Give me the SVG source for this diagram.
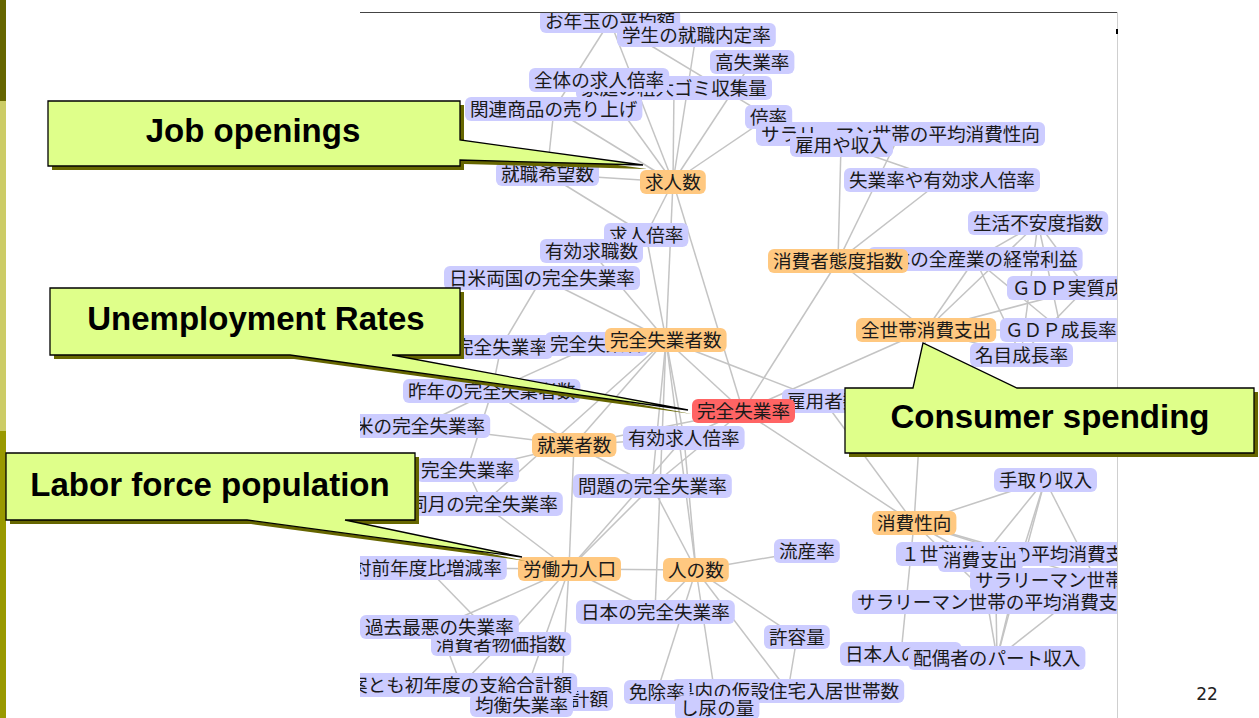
<svg xmlns="http://www.w3.org/2000/svg" width="1259" height="718" viewBox="0 0 1259 718">
  <defs>
    <clipPath id="netClip"><rect x="360" y="12" width="757" height="706"/></clipPath>
  </defs>
  <style>
    .edges line{stroke:#c4c4c4;stroke-width:1.5}
    .n rect{rx:6px;ry:6px;height:24px}
    .b rect{fill:#ccccff}
    .o rect{fill:#ffc880}
    .r rect{fill:#ff6464}
    .n text{font-family:"Noto Sans CJK JP","Noto Sans CJK SC",sans-serif;font-size:18.6px;fill:#1a1a1a;text-anchor:middle}
    .co{fill:#dfff8a;stroke:#000;stroke-width:1.3;stroke-linejoin:miter}
    .sh{fill:#666600}
    .ct{font-family:"Liberation Sans",Arial,sans-serif;font-weight:bold;font-size:33px;text-anchor:middle;fill:#000}
  </style>

  <rect x="0" y="0" width="1259" height="718" fill="#ffffff"/>

  <!-- side band -->
  <rect x="0" y="0" width="6" height="101" fill="#666600"/>
  <rect x="0" y="101" width="6" height="330" fill="#cccc66"/>
  <rect x="0" y="431" width="6" height="287" fill="#999900"/>

  <!-- network view -->
  <g clip-path="url(#netClip)">
    <g id="connectors" class="edges">
      <line x1="610" y1="21" x2="673" y2="182"/>
      <line x1="696" y1="35" x2="673" y2="182"/>
      <line x1="752" y1="62" x2="673" y2="182"/>
      <line x1="674" y1="88" x2="673" y2="182"/>
      <line x1="599" y1="80" x2="673" y2="182"/>
      <line x1="554" y1="109" x2="673" y2="182"/>
      <line x1="769" y1="117" x2="673" y2="182"/>
      <line x1="547" y1="174" x2="673" y2="182"/>
      <line x1="646" y1="235" x2="673" y2="182"/>
      <line x1="673" y1="182" x2="666" y2="340"/>
      <line x1="673" y1="182" x2="743" y2="411"/>
      <line x1="610" y1="21" x2="554" y2="109"/>
      <line x1="554" y1="109" x2="547" y2="174"/>
      <line x1="547" y1="174" x2="646" y2="235"/>
      <line x1="610" y1="21" x2="769" y2="117"/>
      <line x1="900" y1="134" x2="838" y2="261"/>
      <line x1="841" y1="145" x2="838" y2="261"/>
      <line x1="942" y1="180" x2="838" y2="261"/>
      <line x1="841" y1="145" x2="942" y2="180"/>
      <line x1="838" y1="261" x2="743" y2="411"/>
      <line x1="838" y1="261" x2="926" y2="330"/>
      <line x1="1038" y1="223" x2="975" y2="259"/>
      <line x1="1038" y1="223" x2="926" y2="330"/>
      <line x1="1038" y1="223" x2="1061" y2="330"/>
      <line x1="1038" y1="223" x2="1021" y2="355"/>
      <line x1="1038" y1="223" x2="1086" y2="288"/>
      <line x1="975" y1="259" x2="926" y2="330"/>
      <line x1="975" y1="259" x2="1061" y2="330"/>
      <line x1="1086" y1="288" x2="926" y2="330"/>
      <line x1="1086" y1="288" x2="1021" y2="355"/>
      <line x1="926" y1="330" x2="1061" y2="330"/>
      <line x1="926" y1="330" x2="1021" y2="355"/>
      <line x1="975" y1="259" x2="1021" y2="355"/>
      <line x1="926" y1="330" x2="743" y2="411"/>
      <line x1="926" y1="330" x2="914" y2="523"/>
      <line x1="646" y1="235" x2="666" y2="340"/>
      <line x1="591" y1="251" x2="666" y2="340"/>
      <line x1="542" y1="278" x2="666" y2="340"/>
      <line x1="596" y1="344" x2="666" y2="340"/>
      <line x1="666" y1="340" x2="743" y2="411"/>
      <line x1="666" y1="340" x2="824" y2="401"/>
      <line x1="666" y1="340" x2="574" y2="445"/>
      <line x1="666" y1="340" x2="684" y2="438"/>
      <line x1="666" y1="340" x2="652" y2="486"/>
      <line x1="666" y1="340" x2="483" y2="504"/>
      <line x1="666" y1="340" x2="696" y2="570"/>
      <line x1="666" y1="340" x2="655" y2="612"/>
      <line x1="542" y1="278" x2="501" y2="347"/>
      <line x1="501" y1="347" x2="492" y2="391"/>
      <line x1="596" y1="344" x2="492" y2="391"/>
      <line x1="492" y1="391" x2="420" y2="426"/>
      <line x1="492" y1="391" x2="574" y2="445"/>
      <line x1="492" y1="391" x2="467" y2="470"/>
      <line x1="743" y1="411" x2="824" y2="401"/>
      <line x1="743" y1="411" x2="574" y2="445"/>
      <line x1="743" y1="411" x2="684" y2="438"/>
      <line x1="743" y1="411" x2="914" y2="523"/>
      <line x1="743" y1="411" x2="652" y2="486"/>
      <line x1="824" y1="401" x2="914" y2="523"/>
      <line x1="420" y1="426" x2="574" y2="445"/>
      <line x1="574" y1="445" x2="684" y2="438"/>
      <line x1="574" y1="445" x2="467" y2="470"/>
      <line x1="574" y1="445" x2="652" y2="486"/>
      <line x1="574" y1="445" x2="569" y2="569"/>
      <line x1="684" y1="438" x2="696" y2="570"/>
      <line x1="684" y1="438" x2="569" y2="569"/>
      <line x1="467" y1="470" x2="483" y2="504"/>
      <line x1="483" y1="504" x2="569" y2="569"/>
      <line x1="652" y1="486" x2="569" y2="569"/>
      <line x1="652" y1="486" x2="696" y2="570"/>
      <line x1="1045" y1="480" x2="914" y2="523"/>
      <line x1="1045" y1="480" x2="980" y2="560"/>
      <line x1="1045" y1="480" x2="1096" y2="580"/>
      <line x1="1045" y1="480" x2="997" y2="658"/>
      <line x1="1045" y1="480" x2="1022" y2="554"/>
      <line x1="914" y1="523" x2="1022" y2="554"/>
      <line x1="914" y1="523" x2="980" y2="560"/>
      <line x1="914" y1="523" x2="1096" y2="580"/>
      <line x1="914" y1="523" x2="996" y2="602"/>
      <line x1="914" y1="523" x2="901" y2="654"/>
      <line x1="807" y1="551" x2="696" y2="570"/>
      <line x1="427" y1="568" x2="569" y2="569"/>
      <line x1="427" y1="568" x2="501" y2="644"/>
      <line x1="569" y1="569" x2="696" y2="570"/>
      <line x1="569" y1="569" x2="655" y2="612"/>
      <line x1="569" y1="569" x2="439" y2="627"/>
      <line x1="569" y1="569" x2="501" y2="644"/>
      <line x1="569" y1="569" x2="521" y2="705"/>
      <line x1="569" y1="569" x2="561" y2="699"/>
      <line x1="696" y1="570" x2="797" y2="637"/>
      <line x1="696" y1="570" x2="657" y2="692"/>
      <line x1="696" y1="570" x2="788" y2="691"/>
      <line x1="696" y1="570" x2="717" y2="708"/>
      <line x1="696" y1="570" x2="655" y2="612"/>
      <line x1="1022" y1="554" x2="997" y2="658"/>
      <line x1="980" y1="560" x2="997" y2="658"/>
      <line x1="1096" y1="580" x2="997" y2="658"/>
      <line x1="996" y1="602" x2="997" y2="658"/>
      <line x1="439" y1="627" x2="461" y2="685"/>
      <line x1="501" y1="644" x2="461" y2="685"/>
      <line x1="797" y1="637" x2="788" y2="691"/>
    </g>

    <g id="n-otoshidama" class="n b"><rect x="540" y="9" width="140.2"/><text x="610.1" y="27.5">お年玉の平均額</text></g>
    <g id="n-naitei" class="n b"><rect x="617" y="23" width="158.8"/><text x="696.4" y="41.5">学生の就職内定率</text></g>
    <g id="n-koshitsugyo" class="n b"><rect x="710" y="50" width="84.4"/><text x="752.2" y="68.5">高失業率</text></g>
    <g id="n-gomi" class="n b"><rect x="576" y="76" width="196"/><text x="674" y="94.5">家庭の粗大ゴミ収集量</text></g>
    <g id="n-zentai-kyujin" class="n b"><rect x="529" y="68" width="140.2"/><text x="599.1" y="86.5">全体の求人倍率</text></g>
    <g id="n-kanren" class="n b"><rect x="465" y="97" width="177.4"/><text x="553.7" y="115.5">関連商品の売り上げ</text></g>
    <g id="n-bairitsu" class="n b"><rect x="745" y="105" width="47.2"/><text x="768.6" y="123.5">倍率</text></g>
    <g id="n-salary-seiko" class="n b"><rect x="756" y="122" width="289"/><text x="900.5" y="140.5">サラリーマン世帯の平均消費性向</text></g>
    <g id="n-koyo-shunyu" class="n b"><rect x="790" y="133" width="103"/><text x="841.5" y="151.5">雇用や収入</text></g>
    <g id="n-kibo" class="n b"><rect x="496" y="162" width="103"/><text x="547.5" y="180.5">就職希望数</text></g>
    <g id="n-kyujinsu" class="n o"><rect x="640" y="170" width="65.8"/><text x="672.9" y="188.5">求人数</text></g>
    <g id="n-shitsugyo-yuko" class="n b"><rect x="844" y="168" width="196"/><text x="942" y="186.5">失業率や有効求人倍率</text></g>
    <g id="n-fuan" class="n b"><rect x="968" y="211" width="140.2"/><text x="1038.1" y="229.5">生活不安度指数</text></g>
    <g id="n-kyujin-bairitsu" class="n b"><rect x="604" y="223" width="84.4"/><text x="646.2" y="241.5">求人倍率</text></g>
    <g id="n-kyushoku" class="n b"><rect x="540" y="239" width="103"/><text x="591.5" y="257.5">有効求職数</text></g>
    <g id="n-keijo" class="n b"><rect x="868" y="247" width="214.6"/><text x="975.3" y="265.5">日本の全産業の経常利益</text></g>
    <g id="n-taido" class="n o"><rect x="768" y="249" width="140.2"/><text x="838.1" y="267.5">消費者態度指数</text></g>
    <g id="n-nichibei" class="n b"><rect x="444" y="266" width="196"/><text x="542" y="284.5">日米両国の完全失業率</text></g>
    <g id="n-gdp-jisshitsu" class="n b"><rect x="1007" y="276" width="158.8"/><text x="1086.4" y="294.5">ＧＤＰ実質成長率</text></g>
    <g id="n-zensetai" class="n o"><rect x="856" y="318" width="140.2"/><text x="926.1" y="336.5">全世帯消費支出</text></g>
    <g id="n-gdp" class="n b"><rect x="1000" y="318" width="121.6"/><text x="1060.8" y="336.5">ＧＤＰ成長率</text></g>
    <g id="n-meimoku" class="n b"><rect x="970" y="343" width="103"/><text x="1021.5" y="361.5">名目成長率</text></g>
    <g id="n-rate-a" class="n b"><rect x="450" y="335" width="103"/><text x="501.5" y="353.5">完全失業率</text></g>
    <g id="n-shitsugyosha" class="n b"><rect x="545" y="332" width="103"/><text x="596.5" y="350.5">完全失業者</text></g>
    <g id="n-shitsugyoshasu" class="n o"><rect x="605" y="328" width="121.6"/><text x="665.8" y="346.5">完全失業者数</text></g>
    <g id="n-sakunen" class="n b"><rect x="403" y="379" width="177.4"/><text x="491.7" y="397.5">昨年の完全失業者数</text></g>
    <g id="n-koyoshasu" class="n b"><rect x="782" y="389" width="84.4"/><text x="824.2" y="407.5">雇用者数</text></g>
    <g id="n-kanzen-shitsugyoritsu" class="n r"><rect x="692" y="399" width="103"/><text x="743.5" y="417.5">完全失業率</text></g>
    <g id="n-bei" class="n b"><rect x="350" y="414" width="140.2"/><text x="420.1" y="432.5">米の完全失業率</text></g>
    <g id="n-shugyoshasu" class="n o"><rect x="532" y="433" width="84.4"/><text x="574.2" y="451.5">就業者数</text></g>
    <g id="n-yuko-kyujin" class="n b"><rect x="623" y="426" width="121.6"/><text x="683.8" y="444.5">有効求人倍率</text></g>
    <g id="n-rate-b" class="n b"><rect x="416" y="458" width="103"/><text x="467.5" y="476.5">完全失業率</text></g>
    <g id="n-mondai" class="n b"><rect x="573" y="474" width="158.8"/><text x="652.4" y="492.5">問題の完全失業率</text></g>
    <g id="n-dogetsu" class="n b"><rect x="404" y="492" width="158.8"/><text x="483.4" y="510.5">同月の完全失業率</text></g>
    <g id="n-tedori" class="n b"><rect x="994" y="468" width="103"/><text x="1045.5" y="486.5">手取り収入</text></g>
    <g id="n-seiko" class="n o"><rect x="872" y="511" width="84.4"/><text x="914.2" y="529.5">消費性向</text></g>
    <g id="n-ryuzan" class="n b"><rect x="774" y="539" width="65.8"/><text x="806.9" y="557.5">流産率</text></g>
    <g id="n-taizennendo" class="n b"><rect x="348" y="556" width="158.8"/><text x="427.4" y="574.5">対前年度比増減率</text></g>
    <g id="n-rodoryoku" class="n o"><rect x="518" y="557" width="103"/><text x="569.5" y="575.5">労働力人口</text></g>
    <g id="n-hitonokazu" class="n o"><rect x="663" y="558" width="65.8"/><text x="695.9" y="576.5">人の数</text></g>
    <g id="n-isetai" class="n b"><rect x="896" y="542" width="251.8"/><text x="1021.9" y="560.5">１世帯当たりの平均消費支出</text></g>
    <g id="n-shohishishutsu" class="n b"><rect x="938" y="548" width="84.4"/><text x="980.2" y="566.5">消費支出</text></g>
    <g id="n-salary-shishutsu" class="n b"><rect x="970" y="568" width="251.8"/><text x="1095.9" y="586.5">サラリーマン世帯の消費支出</text></g>
    <g id="n-salary-heikin" class="n b"><rect x="852" y="590" width="289"/><text x="996.5" y="608.5">サラリーマン世帯の平均消費支出</text></g>
    <g id="n-nihon" class="n b"><rect x="576" y="600" width="158.8"/><text x="655.4" y="618.5">日本の完全失業率</text></g>
    <g id="n-bukka" class="n b"><rect x="431" y="632" width="140.2"/><text x="501.1" y="650.5">消費者物価指数</text></g>
    <g id="n-kako" class="n b"><rect x="360" y="615" width="158.8"/><text x="439.4" y="633.5">過去最悪の失業率</text></g>
    <g id="n-kyoyo" class="n b"><rect x="764" y="625" width="65.8"/><text x="796.9" y="643.5">許容量</text></g>
    <g id="n-nihonjin" class="n b"><rect x="840" y="642" width="121.6"/><text x="900.8" y="660.5">日本人の人口</text></g>
    <g id="n-haigusha" class="n b"><rect x="908" y="646" width="177.4"/><text x="996.7" y="664.5">配偶者のパート収入</text></g>
    <g id="n-gokeigaku" class="n b"><rect x="510" y="687" width="103"/><text x="561.5" y="705.5">支給合計額</text></g>
    <g id="n-shokyu" class="n b"><rect x="344" y="673" width="233.2"/><text x="460.6" y="691.5">案とも初年度の支給合計額</text></g>
    <g id="n-kinko" class="n b"><rect x="470" y="693" width="103"/><text x="521.5" y="711.5">均衡失業率</text></g>
    <g id="n-kasetsu" class="n b"><rect x="671" y="679" width="233.2"/><text x="787.6" y="697.5">県内の仮設住宅入居世帯数</text></g>
    <g id="n-menjo" class="n b"><rect x="624" y="680" width="65.8"/><text x="656.9" y="698.5">免除率</text></g>
    <g id="n-shinyo" class="n b"><rect x="675" y="696" width="84.4"/><text x="717.2" y="714.5">し尿の量</text></g>
  </g>

  <!-- view frame -->
  <line x1="360" y1="12.5" x2="1117" y2="12.5" stroke="#444" stroke-width="1"/>
  <line x1="1117.5" y1="12" x2="1117.5" y2="718" stroke="#cfcfcf" stroke-width="1"/>
  <rect x="1116" y="29" width="2" height="5" fill="#000"/>

  <!-- callouts -->
  <g id="callout-job">
    <polygon class="sh" transform="translate(4,4)" points="48,101 460,101 460,140 643,165 460,160 460,166 48,166"/>
    <polygon class="co" points="48,101 460,101 460,140 643,165 460,160 460,166 48,166"/>
    <text class="ct" x="253" y="142">Job openings</text>
  </g>
  <g id="callout-unemployment">
    <polygon class="sh" transform="translate(4,4)" points="50,288 460,288 460,355 392,355 688,410 290,355 50,355"/>
    <polygon class="co" points="50,288 460,288 460,355 392,355 688,410 290,355 50,355"/>
    <text class="ct" x="256" y="330">Unemployment Rates</text>
  </g>
  <g id="callout-labor">
    <polygon class="sh" transform="translate(4,4)" points="6,453 415,453 415,520 345,520 522,557 247,520 6,520"/>
    <polygon class="co" points="6,453 415,453 415,520 345,520 522,557 247,520 6,520"/>
    <text class="ct" x="210" y="496">Labor force population</text>
  </g>
  <g id="callout-consumer">
    <polygon class="sh" transform="translate(4,4)" points="845,388 913,388 923,343 1017,388 1254,388 1254,453 845,453"/>
    <polygon class="co" points="845,388 913,388 923,343 1017,388 1254,388 1254,453 845,453"/>
    <text class="ct" x="1050" y="428">Consumer spending</text>
  </g>

  <text x="1207" y="700" font-family="DejaVu Sans, sans-serif" font-size="17" fill="#222" text-anchor="middle">22</text>
</svg>
